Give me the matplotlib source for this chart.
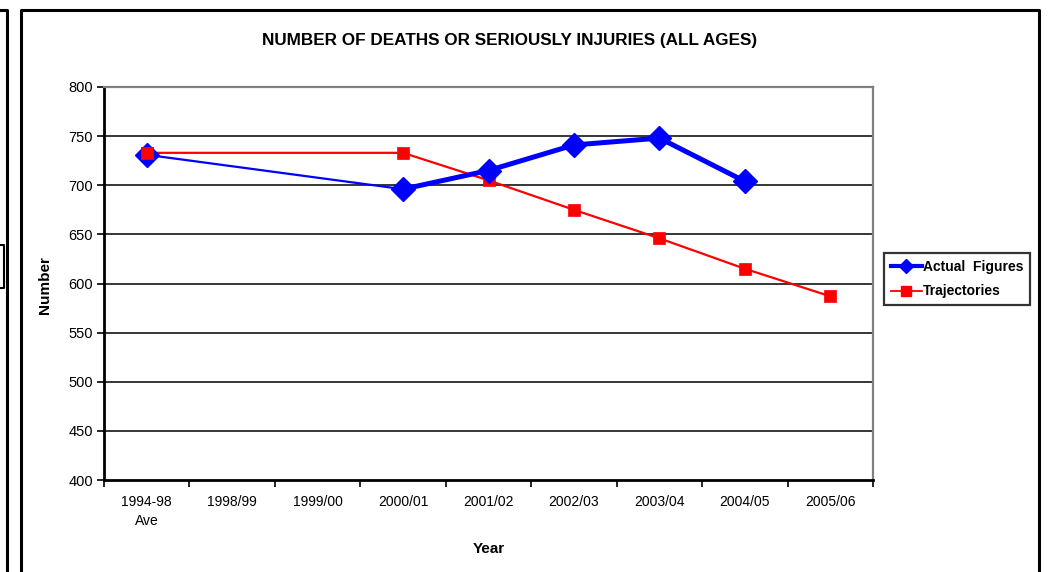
import matplotlib
matplotlib.use("Agg")
import matplotlib.pyplot as plt
from matplotlib.lines import Line2D
import numpy as np

plt.rcParams["font.family"] = ["Liberation Sans", "DejaVu Sans"]

# 데이터
years = ["1994-98\nAve", "1998/99", "1999/00", "2000/01", "2001/02",
         "2002/03", "2003/04", "2004/05", "2005/06"]
actual_years = ["1994-98\nAve", "2000/01", "2001/02", "2002/03", "2003/04", "2004/05"]
actual = [731, 696, 715, 741, 748, 704]
traj_years = ["1994-98\nAve", "2000/01", "2001/02", "2002/03", "2003/04", "2004/05", "2005/06"]
trajectory = [733, 733, 705, 675, 646, 615, 587]
y_ticks = [400, 450, 500, 550, 600, 650, 700, 750, 800]

W, H = 1058, 572
fig = plt.figure(figsize=(W / 100, H / 100), dpi=100)
fig.patch.set_facecolor("white")


def px(x, y):
    # 픽셀 좌표 -> figure 좌표
    return x / W, 1 - y / H


# 차트 테두리 (오른쪽 차트 + 잘린 왼쪽 차트)
def fig_line(xs, ys, lw=2.2):
    fx = [x / W for x in xs]
    fy = [1 - y / H for y in ys]
    fig.add_artist(Line2D(fx, fy, color="black", lw=lw, solid_capstyle="projecting"))

fig_line([21, 21, 1039, 1039], [575, 10, 10, 575])
fig_line([-2, 7, 7], [10, 10, 575])
fig_line([-5, 4, 4, -5], [245, 245, 288, 288], lw=1.5)

# 플롯 영역
left, top, right, bottom = 104, 87, 873, 480
ax = fig.add_axes([left / W, 1 - bottom / H, (right - left) / W, (bottom - top) / H])

xpos = {lab: i for i, lab in enumerate(years)}
ax_x = [xpos[l] for l in actual_years]
tr_x = [xpos[l] for l in traj_years]

for v in y_ticks[1:-1]:
    ax.axhline(v, color="black", lw=1.1, zorder=1)

# 추세선
ax.plot(tr_x, trajectory, color="#ff0000", lw=1.6, marker="s", ms=9,
        mfc="#ff0000", mec="#ff0000", mew=0.5, zorder=3)
# 실제 수치: 첫 구간은 얇게, 이후는 굵게
ax.plot(ax_x[:2], actual[:2], color="#0000ff", lw=1.6, zorder=4)
ax.plot(ax_x[1:], actual[1:], color="#0000ff", lw=3.6, zorder=4)
ax.plot(ax_x, actual, ls="none", marker="D", ms=12, mfc="#0000ff",
        mec="#0000ff", zorder=5)
ax.plot(tr_x[:1], trajectory[:1], ls="none", marker="s", ms=9,
        mfc="#ff0000", mec="#ff0000", mew=0.5, zorder=6)

ax.set_xlim(-0.5, len(years) - 0.5)
ax.set_ylim(400, 800)
ax.set_yticks(y_ticks)
ax.set_yticklabels([str(v) for v in y_ticks], fontsize=10.5)
ax.set_xticks(range(len(years)))
ax.set_xticklabels(years, fontsize=10, linespacing=1.45, va="top")
ax.set_xticks(np.arange(-0.5, len(years)), minor=True)
ax.tick_params(axis="x", which="major", length=0, pad=11)
ax.tick_params(axis="x", which="minor", length=5, width=1.2, direction="out")
ax.tick_params(axis="y", length=5, width=1.2, direction="out", pad=3)

for s in ["left", "bottom"]:
    ax.spines[s].set_color("black")
    ax.spines[s].set_linewidth(2.0)
for s in ["top", "right"]:
    ax.spines[s].set_color("#808080")
    ax.spines[s].set_linewidth(1.6)

# 제목/축 라벨
fig.text(*px(510, 41), "NUMBER OF DEATHS OR SERIOUSLY INJURIES (ALL AGES)",
         ha="center", va="center", fontsize=12.3, fontweight="bold")
fig.text(*px(45, 285), "Number", ha="center", va="center", rotation=90,
         fontsize=11, fontweight="bold")
fig.text(*px(489, 549), "Year", ha="center", va="center",
         fontsize=11, fontweight="bold")

# 범례
handles = [
    Line2D([], [], color="#0000ff", lw=3.0, marker="D", ms=7, mfc="#0000ff", mec="#0000ff"),
    Line2D([], [], color="#ff0000", lw=1.3, marker="s", ms=7, mfc="#ff0000", mec="#ff0000"),
]
leg = fig.legend(handles, ["Actual  Figures", "Trajectories"],
                 loc="upper left", bbox_to_anchor=px(884, 253),
                 prop={"weight": "bold", "size": 10}, frameon=True,
                 fancybox=False, borderpad=0.5, handlelength=2.2,
                 handletextpad=0.1, labelspacing=0.75, borderaxespad=0)
leg.get_frame().set_edgecolor("black")
leg.get_frame().set_linewidth(1.6)

fig.savefig("out.png", dpi=100)
